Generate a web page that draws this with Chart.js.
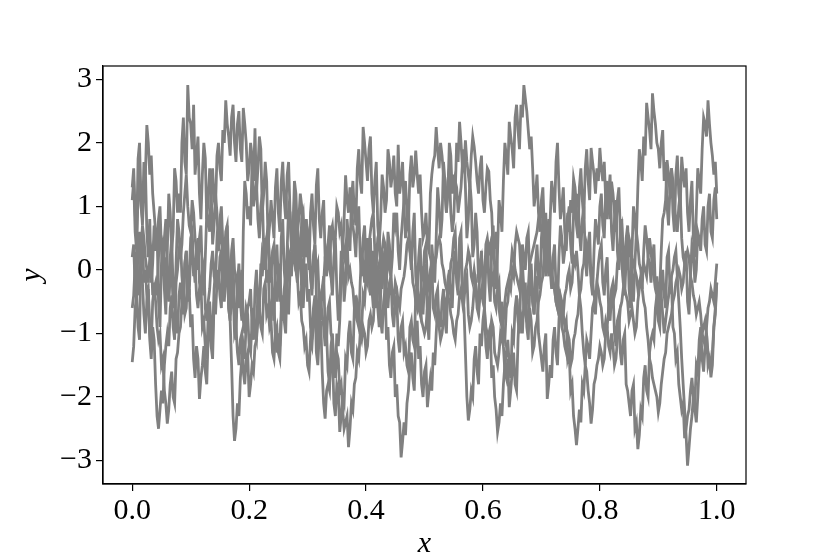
<!DOCTYPE html>
<html>
<head>
<meta charset="utf-8">
<script src="https://cdn.jsdelivr.net/npm/chart.js@4/dist/chart.umd.min.js"></script>
<style>
  html, body { margin: 0; padding: 0; background: #fff; }
  #wrap { width: 830px; height: 554px; }
</style>
</head>
<body>
<div id="wrap"><canvas id="chart" width="830" height="554"></canvas></div>
<script>
const xTicks = [0.0, 0.2, 0.4, 0.6, 0.8, 1.0];
const yTicks = [-3, -2, -1, 0, 1, 2, 3];

// sample paths, evenly spaced on [0, 1]
const pathA = [
  1.3, 1.6, 0.9, 0.5, 1.75, 2.0, 1.1, 0.7, 1.3, 1.6, 0.6, 0.2, 0.8, -0.2, 0.1, 0.7, 0.3, 0.6, -0.5, -0.9,
  0.1, 0.5, -0.3, -0.7, 0.3, 1.2, 0.9, 0.3, 0.6, 1.6, 1.4, 0.9, 1.2, 0.9, 2.0, 2.4, 1.7, 1.5, 2.91, 2.4,
  2.3, 1.9, 2.6, 1.5, 1.8, 2.1, 1.2, 0.8, 1.5, 2.0, 1.76, 0.8, 1.1, 1.6, 1.3, 0.4, 0.7, 1.2, 0.9, 0.3,
  0.5, 0.8, 0.1, -0.3, 0.4, 0.7, -0.3, -0.7, -0.1, 0.2, -0.8, -1.1, -0.2, 0.1, -0.5, -0.8, 0.6, 1.4, 1.2, 0.8,
  1.0, 0.7, 1.7, 1.4, 2.23, 1.2, 1.6, 2.1, 1.9, 0.9, 1.2, 1.7, 1.4, 0.4, 0.7, 1.1, 0.8, 0.5, 1.3, 1.6,
  0.9, 0.6, 1.4, 1.7, 1.1, 0.8, 1.49, 1.7, 0.9, 0.3, 0.6, 1.1, 0.8, -0.1, 0.2, 0.5, 0.0, -0.3, 0.5, 0.8,
  0.3, 0.0, 0.9, 1.2, 0.7, 0.4, 1.33, 1.6, 0.8, 0.5, 0.9, 1.1, 0.2, -0.1, 0.4, 0.7, -0.1, -0.4, 0.2, 0.5,
  -0.3, -0.8, -0.5, 0.3, 0.1, -0.5, -0.2, 0.8, 0.5, 0.3, 1.1, 1.4, 0.9, 0.7, 1.6, 1.9, 1.4, 1.2, 2.25, 2.0,
  1.7, 1.4, 1.9, 2.1, 1.2, 0.9, 1.4, 1.7, 0.7, 0.4, 0.8, 1.5, 1.3, 0.9, 1.1, 1.9, 1.7, 1.3, 1.5, 1.8,
  1.2, 1.0, 1.97, 1.2, 1.4, 1.7, 1.0, 0.5, 0.7, 1.0, 0.3, 0.0, 0.6, 0.9, -0.1, -0.4, 0.2, 0.5, -0.4, -0.7,
  -0.2, 0.1, -0.8, -1.1, -0.3, 0.4, 0.1, -0.2, 0.5, 1.3, 1.0, 0.5, 0.8, 1.7, 1.4, 0.9, 1.2, 2.0, 1.8, 1.2,
  1.5, 1.2, 2.0, 1.7, 2.33, 2.0, 1.6, 1.9, 1.3, 0.5, 0.8, 1.4, 1.1, 0.2, 0.4, 0.9, 0.6, -0.2, 0.0, 0.3,
  -0.3, -0.6, 0.1, 0.4, -0.2, -0.5, 0.4, 0.7, 0.0, -0.3, 0.3, 1.1, 0.9, 0.6, 1.4, 2.0, 1.8, 1.5, 2.33, 2.1,
  1.9, 1.6, 2.4, 2.6, 2.2, 1.9, 2.6, 2.4, 2.91, 2.7, 2.5, 2.2, 1.9, 2.1, 1.6, 1.0, 1.2, 1.5, 0.9, 0.6,
  1.1, 1.3, 0.6, 0.9, 0.2, -0.1, 0.8, 1.4, 1.2, 0.9, 1.7, 2.0, 1.3, 0.8, 1.0, 1.3, 0.6, 0.3, 0.8, 1.0,
  0.4, 0.1, 0.9, 1.2, 0.7, 0.5, 1.3, 1.6, 1.1, 0.8, 1.6, 1.9, 1.4, 1.1, 1.92, 1.7, 1.5, 1.2, 1.6, 1.4,
  1.92, 1.6, 1.4, 1.7, 1.1, 0.8, 1.2, 1.5, 0.6, 0.3, 0.8, 1.1, 0.3, 0.0, 0.5, 0.8, -0.1, -0.4, 0.2, 0.5,
  -0.3, -0.6, 0.3, 1.0, 0.8, 0.5, 1.3, 1.9, 1.7, 1.4, 2.1, 1.8, 2.63, 2.4, 2.2, 1.9, 2.78, 2.5, 2.3, 2.0,
  1.9, 1.6, 2.0, 2.2, 1.4, 1.7, 1.0, 0.7, 1.3, 1.6, 0.9, 0.6, 1.5, 1.8, 1.2, 1.0, 1.78, 1.5, 1.3, 1.6,
  0.9, 0.6, 1.1, 1.4, 0.5, 0.2, 0.9, 1.6, 1.4, 1.2, 1.9, 2.4, 2.3, 2.1, 2.67, 2.3, 2.0, 1.8, 1.5, 1.7,
  1.2
];
const pathB = [
  1.1, 1.4, 0.6, 0.3, 1.2, 1.5, 1.0, 0.8, 1.7, 1.5, 2.28, 2.0, 1.5, 1.8, 1.2, 0.9, 0.6, 0.3, 0.8, 1.0,
  0.3, 0.0, 0.5, 0.8, -0.1, -0.4, 0.2, 0.5, -0.3, -0.6, 0.1, 0.8, 0.6, 0.2, 0.4, 0.9, 1.2, 1.5, 1.0, 0.7,
  0.6, 1.1, 0.9, 0.5, 0.3, 0.0, 0.5, 0.7, -0.1, -0.4, 0.2, 0.9, 0.8, 0.6, 1.3, 1.6, 1.1, 1.0, 1.8, 2.0,
  1.6, 1.4, 2.2, 2.0, 2.67, 2.3, 2.1, 1.8, 2.4, 2.6, 2.0, 1.7, 2.3, 2.5, 1.9, 1.7, 2.55, 2.3, 2.0, 1.4,
  1.6, 2.0, 1.8, 1.0, 1.2, 1.4, 0.8, 0.5, 1.0, 1.2, 0.3, 0.0, 0.5, 0.7, -0.2, 0.1, -0.5, -0.8, 0.1, 0.4,
  -0.2, -0.5, 0.5, 0.8, 0.0, -0.3, 0.3, 1.0, 0.9, 0.4, 0.6, 1.4, 1.2, 0.6, 0.8, 1.2, 1.0, 0.2, 0.4, 0.8,
  0.6, 0.2, -0.1, -0.4, 0.2, 0.4, -0.4, -0.9, -1.0, -0.8, -1.6, -2.1, -2.34, -1.9, -1.8, -1.9, -1.2, -1.0, -1.5, -1.7,
  -1.0, -1.2, -0.8, -0.1, 0.3, 0.8, 1.49, 1.1, 0.9, 1.3, 1.1, 0.7, 0.5, 0.2, 0.8, 1.0, 0.2, -0.1, 0.5, 0.7,
  0.1, -0.2, 0.3, 0.5, -0.3, -0.6, 0.0, 0.2, -0.6, -0.9, -0.4, 0.3, 0.1, -0.4, -0.2, 0.6, 0.4, -0.1, 0.2, 0.9,
  0.7, 0.9, 0.3, 0.0, 0.5, 0.8, 1.1, 1.4, 0.9, 0.7, 1.5, 1.8, 1.3, 1.5, 1.88, 1.5, 1.2, 1.5, 0.9, 0.5,
  0.6, 0.9, 0.4, 0.3, 1.2, 1.5, 1.7, 1.8, 2.25, 1.9, 1.6, 2.0, 1.8, 1.5, 1.2, 0.9, 1.4, 1.6, 0.9, 0.6,
  0.8, 1.4, 1.3, 0.9, 1.1, 1.3, 1.7, 1.6, 2.04, 1.7, 1.5, 1.3, 1.8, 2.1, 1.94, 1.7, 1.4, 1.2, 1.6, 1.8,
  1.1, 0.9, 1.3, 1.6, 1.55, 1.1, 0.9, 0.3, 0.4, 0.6, -0.2, -0.6, -0.8, -0.5, -1.2, -1.6, -1.7, -1.4, -2.16, -1.9,
  -1.6, -1.3, -1.8, -1.9, -1.1, -0.6, -0.7, -1.0, -0.5, -0.2, -0.9, -1.1, -0.3, 0.0, -0.5, -0.7, 0.1, 0.4, -0.1, -0.3,
  0.5, 0.8, 0.2, -0.1, 0.6, 0.8, 0.0, -0.3, 0.2, 0.4, -0.3, -0.6, 0.2, 0.7, 0.5, 0.1, 0.3, 0.6, 0.9, 0.6,
  1.1, 0.9, 1.44, 1.3, 1.0, 1.2, 0.6, 0.3, 0.8, 1.0, 0.2, -0.1, 0.4, 0.6, -0.2, -0.4, 0.3, 0.8, 0.6, 0.4,
  1.0, 1.2, 0.7, 0.5, 1.2, 1.4, 1.0, 0.8, 1.39, 1.2, 0.9, 0.6, 1.1, 1.3, 0.6, 0.7, 0.3, 0.0, 0.5, 0.7,
  0.2, 0.4, -0.2, -0.5, 0.1, 0.6, 0.4, 0.1, 0.0, -0.3, 0.3, 0.7, 0.5, 0.2, 0.1, -0.2, 0.2, 0.4, -0.3, -0.1,
  -0.5, -0.3, 0.3, 0.8, 0.9, 1.1, 1.73, 1.5, 1.2, 1.6, 1.4, 1.0, 0.8, 0.6, 1.0, 1.2, 0.5, 0.2, 0.1, 0.3,
  -0.5, -0.7, -0.1, 0.4, 0.3, -0.2, 0.0, 0.6, 0.5, 0.3, 0.8, 1.0, 0.4, 0.3, 1.0, 1.2, 0.6, 0.5, 1.1, 1.3,
  0.8
];
const pathC = [
  0.2, 0.4, -0.3, -0.5, 0.4, 0.6, 0.0, -0.2, -0.7, -1.0, -0.5, -0.3, -1.1, -1.4, -0.9, -1.1, -1.8, -2.3, -2.5, -2.2,
  -1.9, -2.1, -1.5, -1.2, -1.0, -1.2, -0.6, -0.4, -0.9, -1.1, -0.2, 0.0, 0.3, 0.5, -0.1, -0.4, 0.1, 0.3, -0.5, -0.3,
  -0.9, -0.7, -1.4, -1.7, -1.2, -1.4, -2.03, -1.7, -1.5, -1.2, -1.6, -1.8, -1.0, -0.8, -1.2, -1.4, -0.5, -0.7, -0.2, 0.0,
  -0.4, -0.6, 0.2, 0.0, 0.5, 0.2, -0.6, -0.8, -1.5, -2.3, -2.69, -2.5, -2.1, -2.3, -1.7, -1.4, -1.2, -1.4, -0.8, -0.6,
  -0.5, -0.3, -0.9, -1.1, -0.3, 0.0, -0.5, -0.7, 0.1, -0.1, 0.3, 0.5, -0.2, 0.0, -0.6, -0.8, -0.4, -0.5, -1.1, -1.3,
  -1.0, -1.2, -0.6, -0.4, -0.8, -1.0, -0.1, 0.3, 0.2, -0.1, 0.5, 0.7, 0.0, -0.2, 0.2, 0.4, -0.4, -0.6, -0.1, 0.1,
  -0.5, -0.3, -0.9, -1.1, -0.6, -0.4, -1.3, -1.5, -1.0, -0.5, -0.7, -0.9, -1.2, -1.0, -1.6, -1.8, -1.4, -1.3, -2.1, -2.3,
  -1.8, -1.9, -2.55, -2.3, -2.0, -2.1, -1.4, -1.5, -1.0, -0.8, -1.3, -1.4, -0.6, -0.4, -0.8, -0.9, -0.2, 0.3, 0.1, -0.2,
  0.3, 0.5, -0.1, -0.4, 0.1, 0.3, -0.4, -0.6, -0.2, 0.0, -0.8, -1.0, -0.5, -0.3, -1.1, -0.9, -1.5, -1.7, -1.3, -1.2,
  -2.0, -1.8, -2.3, -2.4, -2.95, -2.7, -2.4, -2.6, -2.1, -1.9, -1.5, -1.3, -1.7, -1.9, -1.0, -0.8, -1.4, -1.2, -1.8, -2.0,
  -1.6, -1.5, -2.16, -1.9, -1.7, -1.9, -1.3, -1.5, -1.0, -0.6, -0.7, -0.9, -0.5, -0.3, -0.8, -1.0, -0.2, 0.0, -0.4, -0.6,
  0.1, 0.3, -0.2, -0.4, 0.5, 0.6, -0.4, -0.6, -1.3, -2.0, -2.37, -2.2, -1.9, -2.0, -1.4, -1.2, -1.6, -1.8, -1.0, -1.2,
  -0.8, -0.6, -1.2, -1.4, -1.0, -0.9, -1.7, -1.5, -2.0, -2.2, -2.55, -2.4, -2.1, -2.3, -1.8, -1.5, -1.3, -1.1, -1.5, -1.7,
  -1.0, -1.1, -0.6, -0.4, -0.8, -1.0, -0.1, 0.4, 0.2, 0.0, 0.5, 0.6, -0.1, 0.1, -0.5, -0.7, -0.3, -0.1, -1.0, -1.2,
  -1.4, -1.6, -1.2, -1.0, -2.03, -1.8, -1.5, -1.7, -1.1, -0.9, -1.3, -1.5, -0.8, -0.4, -0.5, -0.7, -0.9, -0.8, -1.4, -1.3,
  -1.9, -1.8, -2.3, -2.5, -2.76, -2.5, -2.2, -2.4, -1.8, -1.9, -1.5, -1.1, -1.2, -1.4, -1.0, -0.6, -0.5, -0.7, -0.2, 0.1,
  0.3, 0.4, -0.2, -0.4, 0.0, 0.2, -0.6, -0.8, -0.4, -0.3, -1.0, -1.2, -0.8, -0.7, -1.3, -1.5, -1.1, -1.0, -1.8, -1.9,
  -2.1, -2.3, -1.9, -1.8, -2.5, -2.4, -2.82, -2.6, -2.2, -2.3, -1.7, -1.5, -1.9, -2.0, -1.3, -1.1, -1.0, -1.1, -0.6, -0.4,
  -0.8, -0.9, -0.2, 0.0, -0.4, -0.6, 0.2, 0.3, -0.3, -0.2, -0.9, -1.0, -1.4, -1.3, -1.8, -2.0, -2.2, -2.1, -2.65, -2.5,
  -2.3, -2.2, -1.9, -1.7, -2.0, -2.1, -1.5, -1.6, -1.1, -0.9, -1.4, -1.6, -1.2, -1.0, -1.5, -1.4, -1.69, -1.5, -0.9, -0.7,
  -0.2
];
const pathD = [
  -0.6, -0.4, 0.1, 0.3, -0.2, -0.4, 0.3, 0.7, 0.5, 0.2, 0.0, -0.2, 0.2, 0.3, -0.4, -0.2, -0.5, -0.9, -1.1, -1.0,
  -1.5, -1.4, -1.9, -2.1, -2.42, -2.2, -1.8, -1.6, -2.0, -2.1, -1.4, -1.3, -1.0, -0.9, -0.5, -0.3, -0.7, -0.6, 0.0, -0.1,
  0.5, 0.6, 0.1, -0.2, 0.3, 0.5, -0.2, -0.4, 0.0, 0.1, -0.6, -0.8, -0.5, -0.3, 0.1, 0.3, -0.1, -0.2, 0.5, 0.4,
  0.8, 1.0, 0.4, 0.2, 0.6, 0.7, 0.0, -0.2, 0.3, 0.5, 0.0, -0.1, -0.4, -0.6, -0.2, 0.0, -0.8, -1.0, -0.6, -0.7,
  -1.2, -1.3, -0.8, -0.6, -1.0, -1.1, -0.3, -0.5, -0.1, 0.3, 0.2, 0.0, 0.5, 0.6, 0.1, -0.1, 0.3, 0.4, -0.3, -0.5,
  -0.1, 0.1, -0.6, -0.8, -0.3, -0.1, -0.5, -0.7, 0.0, 0.3, 0.2, 0.1, 0.6, 0.8, 0.3, 0.2, 0.8, 0.9, 0.4, 0.2,
  0.5, 0.6, -0.1, -0.3, 0.2, 0.4, 0.0, 0.1, -0.5, -0.7, -0.3, -0.1, -0.9, -1.1, -0.6, -0.5, -1.0, -1.1, -1.5, -1.7,
  -1.3, -1.4, -1.9, -1.8, -2.2, -2.5, -2.4, -2.3, -2.79, -2.5, -2.1, -2.2, -1.8, -1.7, -1.3, -1.4, -1.0, -0.9, -0.4, -0.5,
  -0.1, -0.2, 0.4, 0.6, 0.8, 0.9, 0.3, 0.1, 0.5, 0.6, -0.1, -0.3, 0.2, 0.3, -0.4, -0.6, -0.2, -0.1, -0.7, -0.9,
  -0.5, -0.4, -1.1, -1.3, -0.9, -0.8, -1.3, -1.2, -1.5, -1.6, -0.9, -0.8, -1.1, -1.2, -0.4, -0.3, -0.6, -0.7, 0.0, -0.1,
  0.3, 0.4, -0.2, -0.3, 0.0, 0.1, -0.6, -0.7, -0.4, -0.3, -0.9, -1.1, -1.0, -0.8, -0.5, -0.6, -0.2, -0.3, 0.1, 0.2,
  0.5, 0.6, 0.0, -0.1, 0.2, 0.3, -0.4, -0.5, -0.2, -0.1, -0.7, -0.9, -0.8, -0.6, -0.3, -0.2, -0.5, -0.6, 0.1, 0.2,
  -0.1, -0.2, 0.4, 0.5, 0.3, 0.4, -0.2, -0.1, -0.5, -0.6, -0.3, -0.2, -0.8, -0.9, -1.0, -1.1, -0.6, -0.5, -0.2, -0.3,
  0.0, -0.1, 0.4, 0.6, 0.5, 0.4, 0.0, 0.1, -0.3, -0.4, -0.8, -0.9, -0.6, -0.8, -1.3, -1.2, -0.9, -0.8, -0.5, -0.4,
  -0.2, -0.1, 0.3, 0.4, 0.5, 0.6, 0.1, 0.0, -0.2, -0.3, -0.5, -0.6, -0.3, -0.5, -0.8, -0.7, -0.4, -0.3, -0.1, 0.0,
  -0.3, -0.2, 0.2, 0.1, 0.3, 0.0, -0.4, -0.6, -1.0, -1.3, -1.5, -1.6, -1.9, -2.1, -2.42, -2.2, -1.8, -1.7, -1.5, -1.4,
  -1.2, -1.3, -1.5, -1.4, -1.0, -0.9, -0.6, -0.5, -0.3, -0.2, -0.4, -0.3, 0.1, 0.2, 0.3, 0.1, -0.2, -0.3, -0.4, -0.5,
  -0.8, -0.7, -0.6, -0.8, -1.0, -0.9, -0.5, -0.3, -0.2, -0.1, 0.1, 0.0, -0.1, 0.2, 0.5, 0.3, 0.0, -0.1, -0.3, -0.4,
  -0.6, -0.5, -0.4, -0.7, -1.0, -0.8, -0.6, -0.4, -0.2, -0.1, 0.0, 0.2, 0.3, -0.1, -0.5, -0.9, -1.4, -1.8, -2.2, -2.6,
  -3.08, -2.8, -2.5, -2.3, -2.0, -2.2, -2.4, -2.0, -1.5, -1.2, -1.0, -1.1, -1.2, -0.9, -0.6, -0.5, -0.3, -0.4, -0.5, -0.2,
  0.1
];
const pathE = [
  -1.45, -1.2, -0.6, -0.4, -0.9, -1.1, 0.3, 0.5, -0.2, 0.0, -0.4, -0.3, -1.0, -1.2, -0.5, -0.3, -0.2, -0.4, 0.2, 0.6,
  0.5, 0.3, 0.0, 0.2, -0.3, -0.5, -0.1, 0.1, -0.6, -0.4, -0.8, -1.0, -0.4, -0.2, -0.5, -0.7, 0.1, 0.3, -0.2, -0.4,
  0.3, 0.4, -0.1, 0.1, -0.4, -0.6, -0.3, -0.2, -0.9, -0.8, -1.2, -1.4, -0.7, -0.5, -0.9, -1.1, -0.3, 0.0, -0.1, -0.3,
  0.2, 0.3, -0.3, -0.5, -0.1, 0.1, -0.6, -0.8, -0.4, -0.3, -1.0, -0.9, -1.3, -1.5, -1.1, -1.0, -1.6, -1.8, -1.4, -1.3,
  -2.0, -1.8, -1.5, -1.6, -1.2, -1.1, -0.8, -0.6, -0.9, -1.0, -0.3, -0.2, -0.7, -0.6, -0.9, -0.8, -1.3, -1.4, -1.0, -0.9,
  -1.3, -1.4, -0.8, -0.7, -0.5, -0.6, -0.2, -0.1, 0.1, 0.2, 0.5, 0.6, 0.0, -0.1, -0.5, -0.4, -0.8, -0.9, -1.2, -1.1,
  -1.5, -1.6, -1.1, -1.2, -0.8, -0.7, -1.0, -1.1, -0.5, -0.4, -0.3, -0.2, 0.2, 0.3, 0.1, 0.0, 0.6, 0.7, 0.4, 0.5,
  1.0, 0.9, 0.6, 0.7, 0.3, 0.2, 0.4, 0.5, -0.1, 0.0, -0.2, -0.3, -0.6, -0.7, -0.5, -0.6, -1.0, -1.1, -0.9, -1.0,
  -1.3, -1.2, -0.8, -0.7, -0.9, -0.8, -0.3, -0.2, 0.0, 0.1, 0.2, 0.3, 0.5, 0.4, 0.1, 0.2, 0.0, -0.1, -0.4, -0.5,
  -0.2, -0.3, -0.5, -0.6, -0.3, -0.2, -0.1, 0.1, 0.4, 0.5, 0.3, 0.2, -0.2, -0.3, -0.5, -0.6, -0.4, -0.5, -0.8, -0.9,
  -1.0, -0.9, -0.6, -0.5, -0.3, -0.1, 0.0, 0.1, 0.2, 0.4, 0.5, 0.4, 0.1, 0.0, -0.2, -0.3, -0.4, -0.5, -0.7, -0.8,
  -1.0, -1.1, -0.8, -0.7, -0.4, -0.3, -0.5, -0.3, 0.0, 0.1, 0.3, 0.2, -0.1, -0.2, 0.0, -0.2, -0.6, -0.7, -0.4, -0.3,
  -0.5, -0.6, -0.9, -1.0, -1.1, -1.2, -0.8, -0.9, -1.3, -1.4, -1.5, -1.3, -1.0, -1.1, -0.8, -0.5, -0.3, -0.2, -0.1, 0.0,
  0.3, 0.2, 0.0, -0.1, -0.2, -0.3, -0.1, -0.2, -0.6, -0.7, -0.5, -0.3, 0.1, 0.2, 0.3, 0.4, 0.5, 0.6, 0.8, 0.9,
  1.0, 0.9, 0.6, 0.5, 0.4, 0.3, 0.0, -0.1, -0.2, -0.3, -0.5, -0.6, -0.4, -0.5, -0.9, -1.0, -1.2, -1.3, -1.0, -1.1,
  -1.5, -1.4, -1.1, -1.0, -0.8, -0.7, -0.4, -0.3, 0.0, 0.1, 0.5, 0.4, 0.2, 0.1, -0.1, -0.2, -0.4, -0.5, -0.2, -0.3,
  -0.5, -0.6, -0.9, -1.0, -0.8, -0.9, -1.2, -1.3, -1.0, -1.2, -1.5, -1.4, -1.1, -0.9, -0.6, -0.5, -0.3, -0.1, 0.1, 0.2,
  0.5, 0.4, 0.2, 0.1, 0.0, -0.1, -0.3, -0.2, -0.1, -0.3, -0.5, -0.6, -0.9, -1.1, -1.4, -1.5, -1.7, -1.8, -1.9, -2.0,
  -2.24, -2.1, -1.8, -1.6, -1.4, -1.3, -1.0, -0.9, -0.8, -0.7, -0.5, -0.4, -0.2, -0.1, 0.0, -0.1, -0.3, -0.2, 0.1, 0.2,
  0.3, 0.2, -0.1, -0.2, -0.4, -0.5, -0.7, -0.6, -0.5, -0.7, -1.0, -0.9, -0.8, -1.0, -1.3, -1.4, -1.5, -1.3, -0.9, -0.6,
  -0.2
];

const paths = [pathA, pathB, pathC, pathD, pathE];

const FONT = "'Liberation Serif', 'Times New Roman', serif";

// top/right spines plus axis labels
const framePlugin = {
  id: 'frame',
  afterDraw(chart) {
    const { ctx, chartArea: a } = chart;
    ctx.save();
    ctx.strokeStyle = '#000';
    ctx.lineWidth = 1.2;
    ctx.strokeRect(a.left, a.top, a.right - a.left, a.bottom - a.top);

    ctx.fillStyle = '#000';
    ctx.font = 'italic 30px ' + FONT;
    ctx.textAlign = 'center';
    ctx.textBaseline = 'alphabetic';
    ctx.fillText('x', (a.left + a.right) / 2, 552);

    ctx.translate(40, (a.top + a.bottom) / 2);
    ctx.rotate(-Math.PI / 2);
    ctx.fillText('y', 0, 0);
    ctx.restore();
  }
};

new Chart(document.getElementById('chart'), {
  type: 'scatter',
  data: {
    datasets: paths.map(p => ({
      data: p.map((v, i) => ({ x: i / (p.length - 1), y: v })),
      showLine: true,
      borderColor: '#808080',
      borderWidth: 2.8,
      pointRadius: 0,
      tension: 0,
    })),
  },
  options: {
    responsive: false,
    animation: false,
    events: [],
    layout: { padding: { top: 66, right: 84, left: 0, bottom: 0 } },
    plugins: { legend: { display: false }, tooltip: { enabled: false } },
    scales: {
      x: {
        type: 'linear',
        min: -0.05,
        max: 1.05,
        afterBuildTicks: s => { s.ticks = xTicks.map(v => ({ value: v })); },
        afterFit: s => { s.height = 70; },
        ticks: {
          color: '#000',
          font: { family: FONT, size: 30 },
          padding: 2,
          maxRotation: 0,
          callback: v => v.toFixed(1),
        },
        grid: { display: true, drawOnChartArea: false, drawTicks: true, tickLength: 7, color: '#000', lineWidth: 1.2 },
        border: { display: true, color: '#000', width: 1.2 },
      },
      y: {
        type: 'linear',
        min: -3.37,
        max: 3.21,
        afterBuildTicks: s => { s.ticks = yTicks.map(v => ({ value: v })); },
        afterFit: s => { s.width = 103; },
        ticks: {
          color: '#000',
          font: { family: FONT, size: 30 },
          padding: 4,
          callback: v => (v < 0 ? '\u2212' + Math.abs(v) : String(v)),
        },
        grid: { display: true, drawOnChartArea: false, drawTicks: true, tickLength: 7, color: '#000', lineWidth: 1.2 },
        border: { display: true, color: '#000', width: 1.2 },
      },
    },
  },
  plugins: [framePlugin],
});
</script>
</body>
</html>
